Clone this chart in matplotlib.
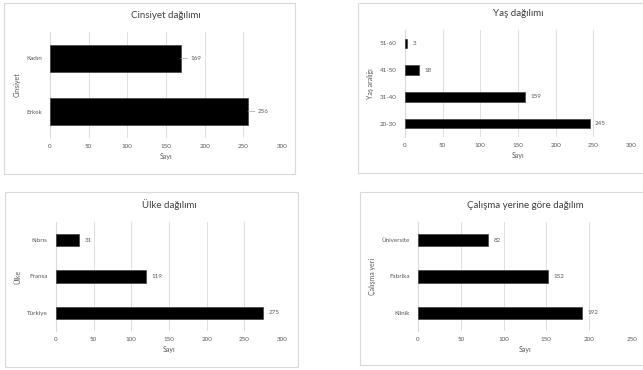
import matplotlib.pyplot as plt
from matplotlib.patches import Rectangle

plt.rcParams['font.family'] = ['Lato', 'DejaVu Sans']

W, H = 643, 370

# survey breakdowns (bottom category first)
cinsiyet_cat = ['Erkek', 'Kadın']
cinsiyet_val = [256, 169]

yas_cat = ['20-30', '31-40', '41-50', '51-60']
yas_val = [245, 159, 18, 3]

ulke_cat = ['Türkiye', 'Fransa', 'Kıbrıs']
ulke_val = [275, 119, 31]

is_cat = ['Klinik', 'Fabrika', 'Üniversite']
is_val = [192, 152, 82]

text_col = '#595959'
grid_col = '#d9d9d9'


def px_axes(fig, left, right, top, bottom):
    return fig.add_axes([left / W, 1 - bottom / H, (right - left) / W, (bottom - top) / H])


def frame(fig, left, right, top, bottom):
    fig.patches.append(Rectangle((left / W, 1 - bottom / H), (right - left) / W, (bottom - top) / H,
                                 transform=fig.transFigure, fill=False, edgecolor=grid_col, linewidth=0.8))


def bar_panel(ax, cats, vals, title, ylabel, xmax, height, leader=False):
    y = list(range(len(cats)))
    ax.barh(y, vals, height=height, color='black', edgecolor='#404040', linewidth=0.5, zorder=3)
    ax.set_xlim(0, xmax)
    ax.set_ylim(-0.5, len(cats) - 0.5)
    ax.set_xticks(range(0, xmax + 1, 50))
    ax.set_yticks(y)
    ax.set_yticklabels(cats)
    ax.tick_params(axis='both', labelsize=4.5, colors=text_col, length=0, pad=4)
    ax.tick_params(axis='y', pad=6)
    ax.grid(axis='x', color=grid_col, linewidth=0.6, zorder=0)
    for s in ['top', 'right', 'bottom']:
        ax.spines[s].set_visible(False)
    ax.spines['left'].set_color(grid_col)
    ax.spines['left'].set_linewidth(0.8)
    ax.set_xlabel('Sayı', fontsize=5, color=text_col, labelpad=3)
    ax.set_ylabel(ylabel, fontsize=5, color=text_col, labelpad=4)
    ax.set_title(title, fontsize=7, color='#404040', pad=10)
    for yi, v in zip(y, vals):
        if leader:
            ax.annotate(str(v), xy=(v, yi), xytext=(7, 0), textcoords='offset points',
                        fontsize=4.5, color=text_col, va='center',
                        arrowprops=dict(arrowstyle='-', color='#a6a6a6', linewidth=0.5,
                                        shrinkA=0, shrinkB=0))
        else:
            ax.annotate(str(v), xy=(v, yi), xytext=(4, 0), textcoords='offset points',
                        fontsize=4.5, color=text_col, va='center')


fig = plt.figure(figsize=(W / 100, H / 100), dpi=100)
fig.patch.set_facecolor('white')

frame(fig, 4, 295, 3, 174)
frame(fig, 358, 660, 3, 173)
frame(fig, 5, 298, 192, 367)
frame(fig, 360, 660, 192, 365)

ax1 = px_axes(fig, 50, 282, 32, 138)
bar_panel(ax1, cinsiyet_cat, cinsiyet_val, 'Cinsiyet dağılımı', 'Cinsiyet', 300, 0.5, leader=True)

ax2 = px_axes(fig, 405, 631, 30, 137)
bar_panel(ax2, yas_cat, yas_val, 'Yaş dağılımı', 'Yaş aralığı', 300, 0.35)

ax3 = px_axes(fig, 56, 282, 222, 331)
bar_panel(ax3, ulke_cat, ulke_val, 'Ülke dağılımı', 'Ülke', 300, 0.34)

ax4 = px_axes(fig, 418, 632, 222, 331)
bar_panel(ax4, is_cat, is_val, 'Çalışma yerine göre dağılım', 'Çalışma yeri', 250, 0.34)

fig.savefig('out.png', dpi=100, facecolor='white')
